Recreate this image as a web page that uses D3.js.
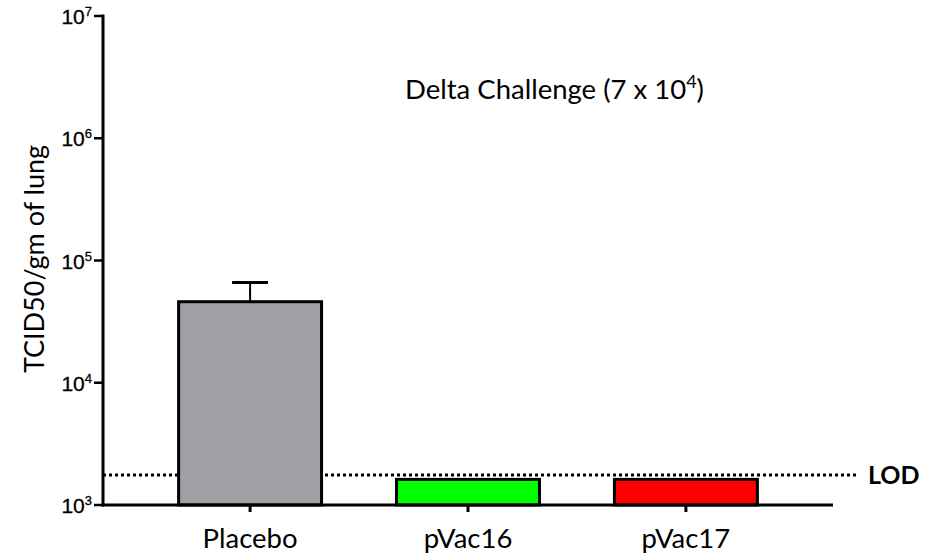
<!DOCTYPE html>
<html>
<head>
<meta charset="utf-8">
<script src="https://cdn.jsdelivr.net/npm/d3@7"></script>
<style>
  body { margin: 0; background: #fff; }
  svg { display: block; }
</style>
</head>
<body>
<div id="chart"></div>
<script>
// values
const categories = ["Placebo", "pVac16", "pVac17"];
const means = [46000, 1620, 1620];
const upperErr = [66000, null, null];
const barColors = ["#a09fa4", "#00ff00", "#ff0000"];
const yTicks = [1e3, 1e4, 1e5, 1e6, 1e7];
const lodValue = 1760;

const width = 936, height = 556;
const x0 = 103, x1 = 833, yTop = 16, yBot = 505;

const svg = d3.select("#chart").append("svg")
  .attr("width", width)
  .attr("height", height);

const x = d3.scaleBand()
  .domain(categories)
  .range([x0, x1])
  .paddingInner(0.344)
  .paddingOuter(0.347);

const y = d3.scaleLog()
  .domain([1e3, 1e7])
  .range([yBot, yTop]);

// LOD dotted line (drawn first so the bars cover it)
svg.append("line")
  .attr("x1", x0).attr("x2", 857)
  .attr("y1", y(lodValue)).attr("y2", y(lodValue))
  .attr("stroke", "#000")
  .attr("stroke-width", 3)
  .attr("stroke-dasharray", "3,3");

svg.append("text")
  .attr("x", 868)
  .attr("y", y(lodValue) + 9)
  .attr("font-family", "Lato, sans-serif")
  .attr("font-weight", "bold")
  .attr("font-size", 25)
  .text("LOD");

// bars
svg.append("g")
  .selectAll("rect")
  .data(categories)
  .join("rect")
    .attr("x", d => x(d))
    .attr("y", (d, i) => y(means[i]))
    .attr("width", x.bandwidth())
    .attr("height", (d, i) => y(1e3) - y(means[i]))
    .attr("fill", (d, i) => barColors[i])
    .attr("stroke", "#000")
    .attr("stroke-width", 3);

// error bars (upper only)
const err = svg.append("g");
categories.forEach((c, i) => {
  if (upperErr[i] == null) return;
  const cx = x(c) + x.bandwidth() / 2;
  err.append("line")
    .attr("x1", cx).attr("x2", cx)
    .attr("y1", y(means[i])).attr("y2", y(upperErr[i]))
    .attr("stroke", "#000").attr("stroke-width", 2);
  err.append("line")
    .attr("x1", cx - 18).attr("x2", cx + 18)
    .attr("y1", y(upperErr[i])).attr("y2", y(upperErr[i]))
    .attr("stroke", "#000").attr("stroke-width", 3);
});

// y axis
const yAxis = svg.append("g");
yAxis.append("line")
  .attr("x1", x0).attr("x2", x0)
  .attr("y1", yTop - 1.5).attr("y2", yBot + 1.5)
  .attr("stroke", "#000").attr("stroke-width", 3);
yTicks.forEach(t => {
  yAxis.append("line")
    .attr("x1", x0 - 9).attr("x2", x0)
    .attr("y1", y(t)).attr("y2", y(t))
    .attr("stroke", "#000").attr("stroke-width", 2.5);
  const lab = yAxis.append("text")
    .attr("x", x0 - 11)
    .attr("y", y(t) + 8)
    .attr("text-anchor", "end")
    .attr("font-family", "Liberation Sans, Arial, sans-serif")
    .attr("font-size", 21)
    .attr("stroke", "#000")
    .attr("stroke-width", 0.3);
  lab.append("tspan").text("10");
  lab.append("tspan")
    .attr("dy", -8)
    .attr("font-size", 13)
    .text(Math.round(Math.log10(t)));
});

// x axis
const xAxis = svg.append("g");
xAxis.append("line")
  .attr("x1", x0 - 1.5).attr("x2", x1)
  .attr("y1", yBot).attr("y2", yBot)
  .attr("stroke", "#000").attr("stroke-width", 3);
categories.forEach(c => {
  const cx = x(c) + x.bandwidth() / 2;
  xAxis.append("line")
    .attr("x1", cx).attr("x2", cx)
    .attr("y1", yBot).attr("y2", yBot + 7)
    .attr("stroke", "#000").attr("stroke-width", 3);
  xAxis.append("text")
    .attr("x", cx)
    .attr("y", 548)
    .attr("text-anchor", "middle")
    .attr("font-family", "Lato, sans-serif")
    .attr("font-size", 27.5)
    .text(c);
});

// y label
svg.append("text")
  .attr("transform", "translate(44,259) rotate(-90)")
  .attr("text-anchor", "middle")
  .attr("font-family", "Lato, sans-serif")
  .attr("font-size", 27)
  .text("TCID50/gm of lung");

// title
const title = svg.append("text")
  .attr("x", 405)
  .attr("y", 99)
  .attr("font-family", "Lato, sans-serif")
  .attr("font-size", 27.5);
title.append("tspan").text("Delta Challenge (7 x 10");
title.append("tspan").attr("dy", -11).attr("font-size", 18).text("4");
title.append("tspan").attr("dy", 11).text(")");
</script>
</body>
</html>
